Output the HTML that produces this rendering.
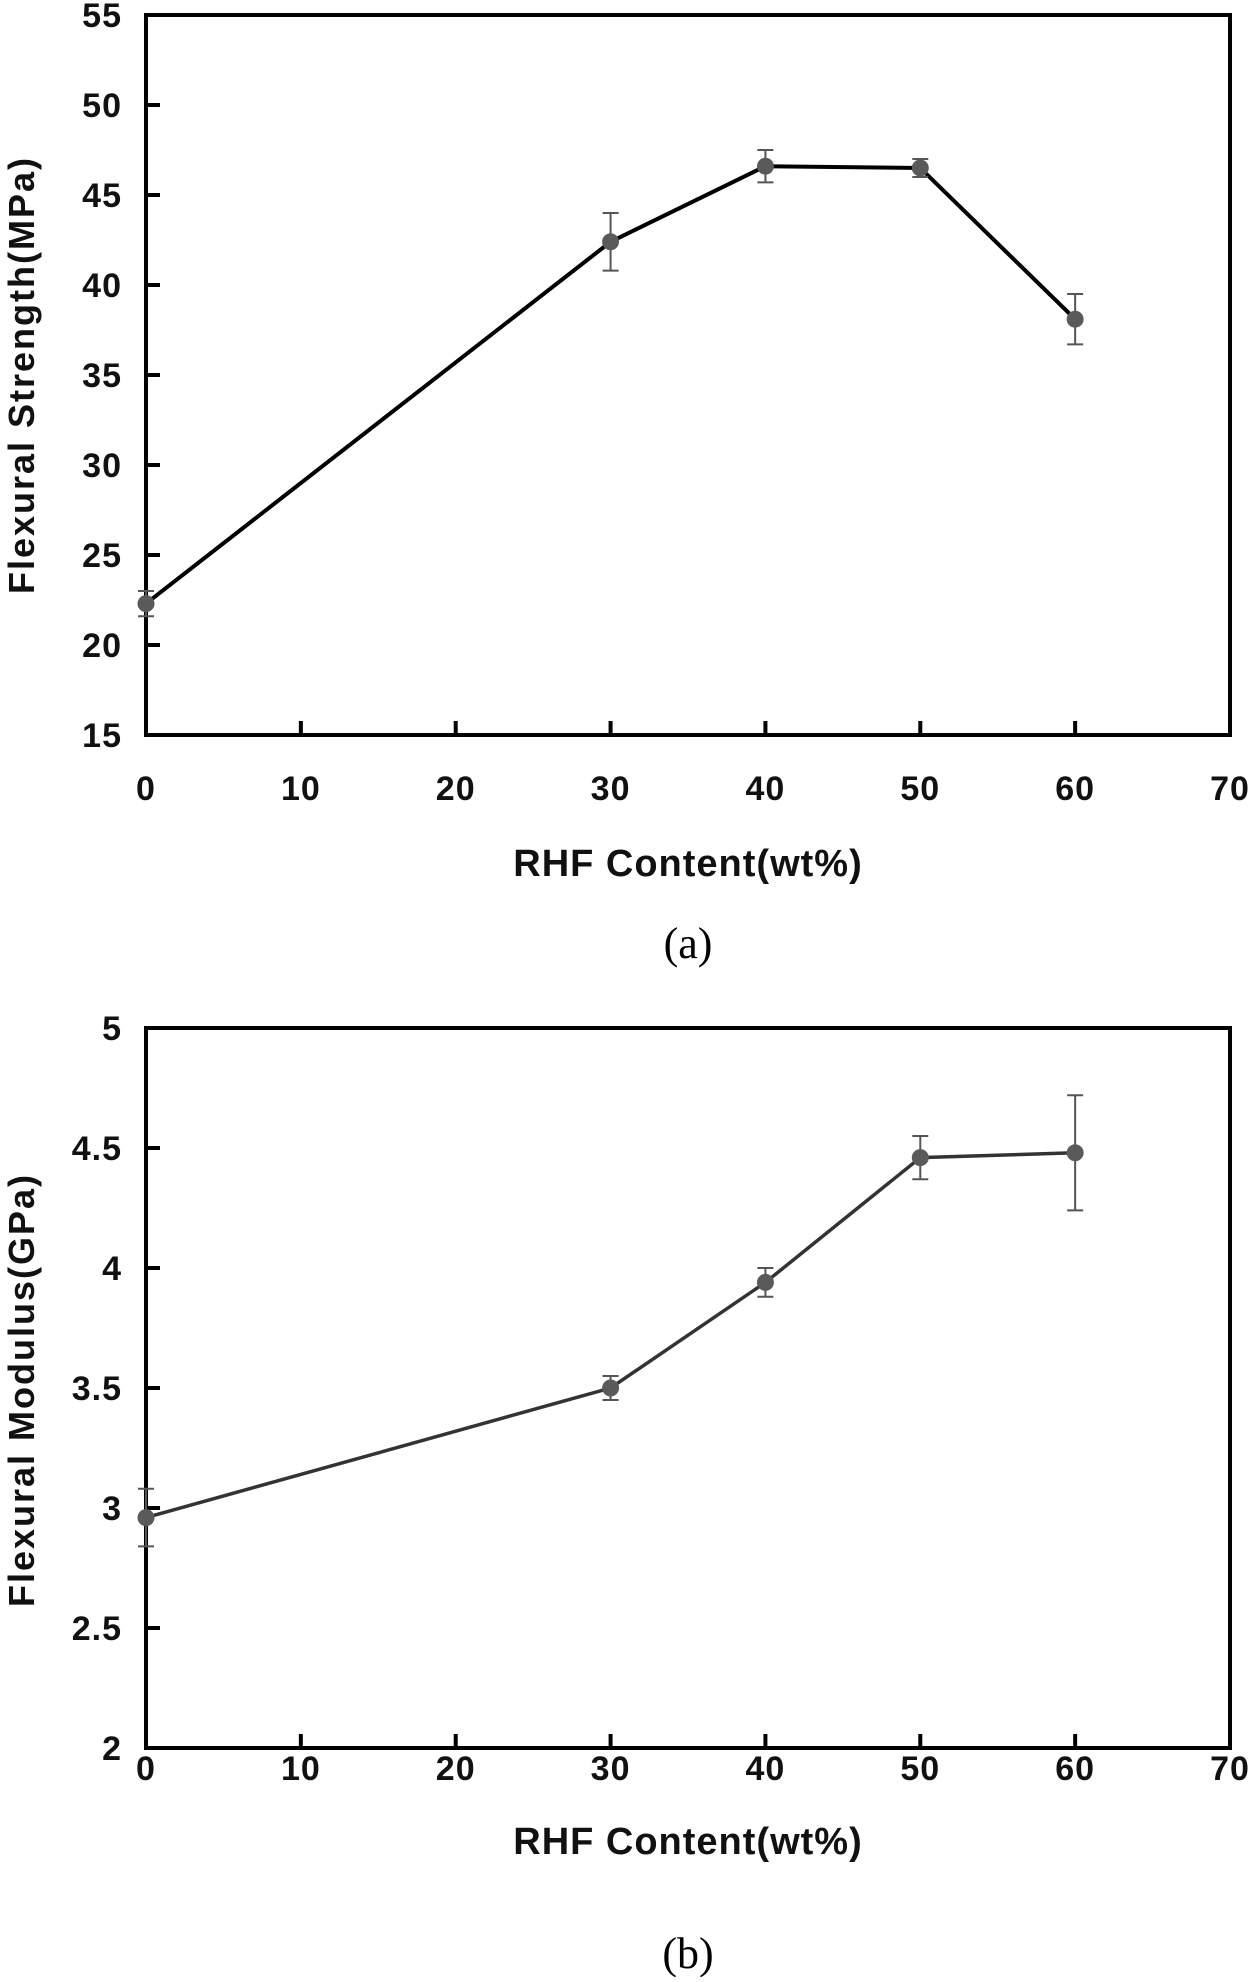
<!DOCTYPE html>
<html><head><meta charset="utf-8"><style>
html,body{margin:0;padding:0;background:#fff;}
svg text{font-family:"Liberation Sans",sans-serif;}
</style></head><body>
<svg id="fig" width="1260" height="1977" viewBox="0 0 1260 1977" xmlns="http://www.w3.org/2000/svg"></svg>
<script>
const xCats = [0, 30, 40, 50, 60];
const strengthVals = [22.3, 42.4, 46.6, 46.5, 38.1];
const strengthErr = [0.7, 1.6, 0.9, 0.5, 1.4];
const modulusVals = [2.96, 3.50, 3.94, 4.46, 4.48];
const modulusErr = [0.12, 0.05, 0.06, 0.09, 0.24];
const xTicks = [0, 10, 20, 30, 40, 50, 60, 70];
const yTicksA = [15, 20, 25, 30, 35, 40, 45, 50, 55];
const yTicksB = [2, 2.5, 3, 3.5, 4, 4.5, 5];

const NS = "http://www.w3.org/2000/svg";
const svg = document.getElementById('fig');
function mk(tag, attrs, parent){
  const e = document.createElementNS(NS, tag);
  for (const k in attrs) e.setAttribute(k, attrs[k]);
  (parent||svg).appendChild(e);
  return e;
}
function panel(cfg){
  const g = mk('g', {});
  
  
  const L=146, R=1230, T=cfg.top, B=cfg.bottom;
  const sx = v => L + (v - 0) / 70 * (R - L);
  const sy = v => B - (v - cfg.ymin) / (cfg.ymax - cfg.ymin) * (B - T);
  const frame = mk('rect', {x:L, y:T, width:R-L, height:B-T, fill:'none', stroke:'#000', 'stroke-width':4}, g);
  
  
  cfg.yTicks.forEach(v => {
    mk('line', {x1:L, x2:L+14, y1:sy(v), y2:sy(v), stroke:'#000', 'stroke-width':4}, g);
    const t = mk('text', {x:L-24, y:sy(v)+12, 'text-anchor':'end', 'font-size':34, 'font-weight':'bold', fill:'#111', 'letter-spacing':1}, g);
    t.textContent = String(v);
    
    
  });
  xTicks.forEach(v => {
    mk('line', {x1:sx(v), x2:sx(v), y1:B, y2:B-14, stroke:'#000', 'stroke-width':4}, g);
    const t = mk('text', {x:sx(v), y:cfg.xLabY, 'text-anchor':'middle', 'font-size':34, 'font-weight':'bold', fill:'#111', 'letter-spacing':1}, g);
    t.textContent = String(v);
    
    
  });
  const xt = mk('text', {x:688, y:cfg.xTitleY, 'text-anchor':'middle', 'font-size':38, 'font-weight':'bold', fill:'#111', 'letter-spacing':1}, g);
  xt.textContent = 'RHF Content(wt%)';
  
  
  const yt = mk('text', {x:0, y:0, 'text-anchor':'middle', 'font-size':36, 'font-weight':'bold', fill:'#111', 'letter-spacing':2, transform:'translate(34,'+cfg.yTitleY+') rotate(-90)'}, g);
  yt.textContent = cfg.yTitle;
  
  
  const cap = mk('text', {x:688, y:cfg.capY, 'text-anchor':'middle', 'font-size':44, fill:'#000'}, g);
  cap.style.fontFamily = '"Liberation Serif", serif';
  cap.textContent = cfg.cap;
  
  
  const pts = xCats.map((x,i) => sx(x)+','+sy(cfg.vals[i])).join(' ');
  const line = mk('polyline', {points:pts, fill:'none', stroke:cfg.lineColor, 'stroke-width':cfg.lw}, g);
  
  
  xCats.forEach((x,i) => {
    const cx = sx(x), v = cfg.vals[i], e = cfg.errs[i];
    const y1 = sy(v+e), y2 = sy(v-e);
    const eb = mk('path', {d:`M${cx},${y1}V${y2}M${cx-8},${y1}H${cx+8}M${cx-8},${y2}H${cx+8}`, stroke:'#555', 'stroke-width':2, fill:'none'}, g);
    
    
    const c = mk('circle', {cx:cx, cy:sy(v), r:8.5, fill:'#5a5a5a'}, g);
    
    
  });
}
panel({name:'chart-flexural-strength', top:15, bottom:735, ymin:15, ymax:55, yTicks:yTicksA,
  vals:strengthVals, errs:strengthErr, xLabY:800, xTitleY:876, yTitleY:375, yTitle:'Flexural Strength(MPa)', cap:'(a)', capY:958, lineColor:'#000', lw:4});
panel({name:'chart-flexural-modulus', top:1028, bottom:1748, ymin:2, ymax:5, yTicks:yTicksB,
  vals:modulusVals, errs:modulusErr, xLabY:1780, xTitleY:1854, yTitleY:1390, yTitle:'Flexural Modulus(GPa)', cap:'(b)', capY:1968, lineColor:'#333', lw:3.5});
</script>
</body></html>
